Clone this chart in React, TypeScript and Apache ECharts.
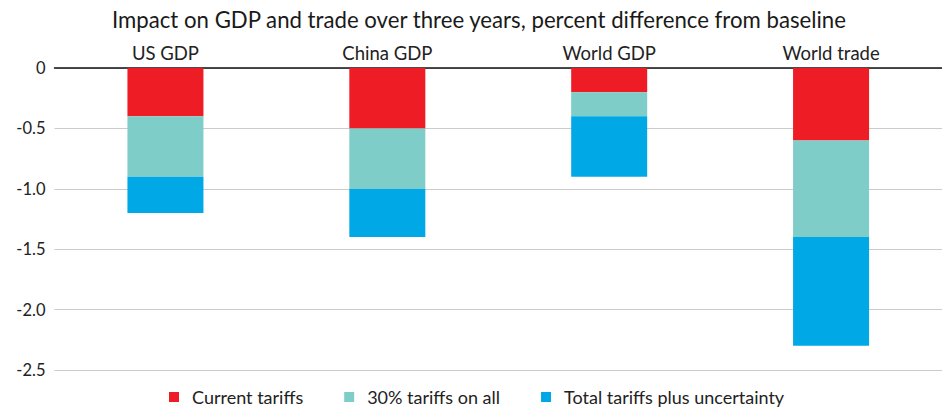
import React, { useEffect, useRef } from "react";
import * as echarts from "echarts";

const categories = ["US GDP", "China GDP", "World GDP", "World trade"];
const currentTariffs = [-0.4, -0.5, -0.2, -0.6];
const tariffsOnAll = [-0.5, -0.5, -0.2, -0.8];
const uncertainty = [-0.3, -0.4, -0.5, -0.9];
const seriesNames = ["Current tariffs", "30% tariffs on all", "Total tariffs plus uncertainty"];
const colors = ["#EE1C25", "#7ECDC8", "#00A8E6"];

const FONT = "Lato, 'Noto Sans', sans-serif";

export default function App() {
  const ref = useRef<HTMLDivElement>(null);
  useEffect(() => {
    document.body.style.margin = "0";
    const chart = echarts.init(ref.current!, null, { renderer: "svg" });
    const values = [currentTariffs, tariffsOnAll, uncertainty];
    chart.setOption({
      animation: false,
      textStyle: { fontFamily: FONT },
      title: {
        text: "Impact on GDP and trade over three years, percent difference from baseline",
        left: 107,
        top: 3,
        textStyle: { fontFamily: FONT, fontSize: 22.2, fontWeight: "normal", color: "#1a1a1a" },
      },
      legend: {
        top: 383,
        left: 164,
        icon: "rect",
        itemWidth: 10,
        itemHeight: 10,
        itemGap: 41,
        textStyle: { fontFamily: FONT, fontSize: 18, lineHeight: 18, color: "#222", padding: [0, 0, 0, 8] },
        data: seriesNames,
      },
      grid: { left: 54.5, right: -12.5, top: 68, bottom: 38, containLabel: false },
      xAxis: {
        type: "category",
        data: categories,
        position: "top",
        axisLine: { show: true, lineStyle: { color: "#111", width: 1.5 } },
        axisTick: { show: false },
        axisLabel: { fontFamily: FONT, fontSize: 18.5, color: "#222", margin: 6 },
      },
      yAxis: {
        type: "value",
        min: -2.5,
        max: 0,
        interval: 0.5,
        axisLine: { show: false },
        axisTick: { show: false },
        splitLine: { lineStyle: { color: "#c8cccc", width: 1 } },
        axisLabel: {
          fontFamily: FONT,
          fontSize: 16.5,
          color: "#222",
          margin: 9,
          formatter: (v: number) => (v === 0 ? "0" : v.toFixed(1)),
        },
      },
      series: seriesNames.map((name, i) => ({
        name,
        type: "bar",
        stack: "total",
        barWidth: 76,
        data: values[i],
        itemStyle: { color: colors[i] },
      })),
    });
    return () => chart.dispose();
  }, []);
  return <div ref={ref} style={{ position: "absolute", left: 0, top: 0, width: 942, height: 408 }} />;
}
